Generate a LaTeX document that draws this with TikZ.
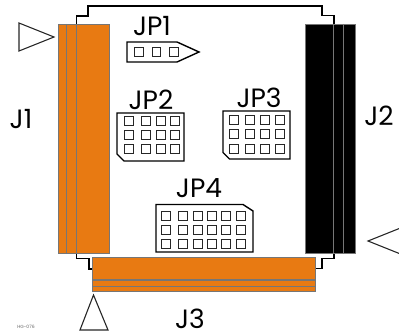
\documentclass[tikz,border=0pt]{standalone}
\usepackage{fontspec}
\setmainfont{Poppins}
\definecolor{conorange}{RGB}{232,122,18}
\definecolor{congray}{RGB}{118,118,118}
\tikzset{
	header/.style = {draw=black, line width=1.4pt, fill=white, line join=miter},
	pin/.style = {rectangle, draw=black!85, line width=0.8pt, minimum size=8.5pt, inner sep=0pt},
	conn/.style = {draw=congray, line width=0.8pt},
	strip/.style = {draw=congray, line width=1.5pt},
	board/.style = {draw=black, line width=1.3pt},
	marker/.style = {draw=black!85, line width=1.1pt, fill=white},
	label/.style = {inner sep=0pt, font=\fontsize{26.5}{26.5}\selectfont}
}
\begin{document}
\begin{tikzpicture}[x=1pt, y=-1pt]
	\useasboundingbox (0,0) rectangle (399,336);
	\clip (0,0) rectangle (399,336);
	% Board outline
	\draw [board] (76.5,24) -- (76.5,16) -- (88,16) -- (88,6) -- (322,6) -- (322,15.5) -- (334,15.5) -- (334,24);
	\draw [board] (76.5,253) -- (76.5,258.5) -- (89,258.5) -- (89,269) -- (92,269);
	\draw [board] (334,253) -- (334,258.5) -- (322,258.5) -- (322,268.5) -- (315,268.5);
	% Connectors
	\draw [conn, fill=conorange] (58,24) rectangle (109,253);
	\draw [strip] (66.5,24) -- (66.5,253);
	\draw [strip] (76.5,24) -- (76.5,253);
	\draw [conn, fill=black] (305,24) rectangle (355,253);
	\draw [strip] (333.5,24) -- (333.5,253);
	\draw [strip] (343.5,24) -- (343.5,253);
	\draw [conn, fill=conorange] (92,257) rectangle (315,291);
	\draw [strip] (92,280) -- (315,280);
	\draw [strip] (92,286.5) -- (315,286.5);
	% Pin 1 markers
	\draw [marker] (19,23) -- (54,37) -- (19,51) -- cycle;
	\draw [marker] (93.5,295) -- (108,330) -- (80,330) -- cycle;
	\draw [marker] (368,241) -- (403,227) -- (403,255) -- cycle;
	% Jumper headers
	\draw [header] (127,42) -- (177,42) -- (199,52) -- (177,62) -- (127,62) -- cycle;
	\draw [header] (117,113) -- (184,113) -- (184,161) -- (124,161) -- (117,154) -- cycle;
	\draw [header] (223,111) -- (290,111) -- (290,159) -- (229.5,159) -- (223,152.5) -- cycle;
	\draw [header] (156,204.5) -- (243,204.5) -- (253,211) -- (253,252) -- (156,252) -- cycle;
	% Pins
	\foreach \x in {139,156.5,174}
		\node [pin] (jpa\x) at (\x,52) {};
	\foreach \x in {129,146,161,175}
		\foreach \y in {121,135,149}
			\node [pin] (jpb\x\y) at (\x,\y) {};
	\foreach \x in {234,250,265,280}
		\foreach \y in {120,134,149}
			\node [pin] (jpc\x\y) at (\x,\y) {};
	\foreach \x in {166,183,198,212,226,241}
		\foreach \y in {216,230,244}
			\node [pin] (jpd\x\y) at (\x,\y) {};
	% Labels
	\node [label] (jone) at (21,119) {J1};
	\node [label] (jtwo) at (379,116) {J2};
	\node [label] (jthree) at (190,319) {J3};
	\node [label] (jpone) at (152,26) {JP1};
	\node [label] (jptwo) at (151,99.5) {JP2};
	\node [label] (jpthree) at (259,97.5) {JP3};
	\node [label] (jpfour) at (199,188) {JP4};
	\node [inner sep=0pt, font=\fontsize{4.5}{4.5}\selectfont, text=black!60] (partno) at (26,327) {HG-076};
\end{tikzpicture}
\end{document}
